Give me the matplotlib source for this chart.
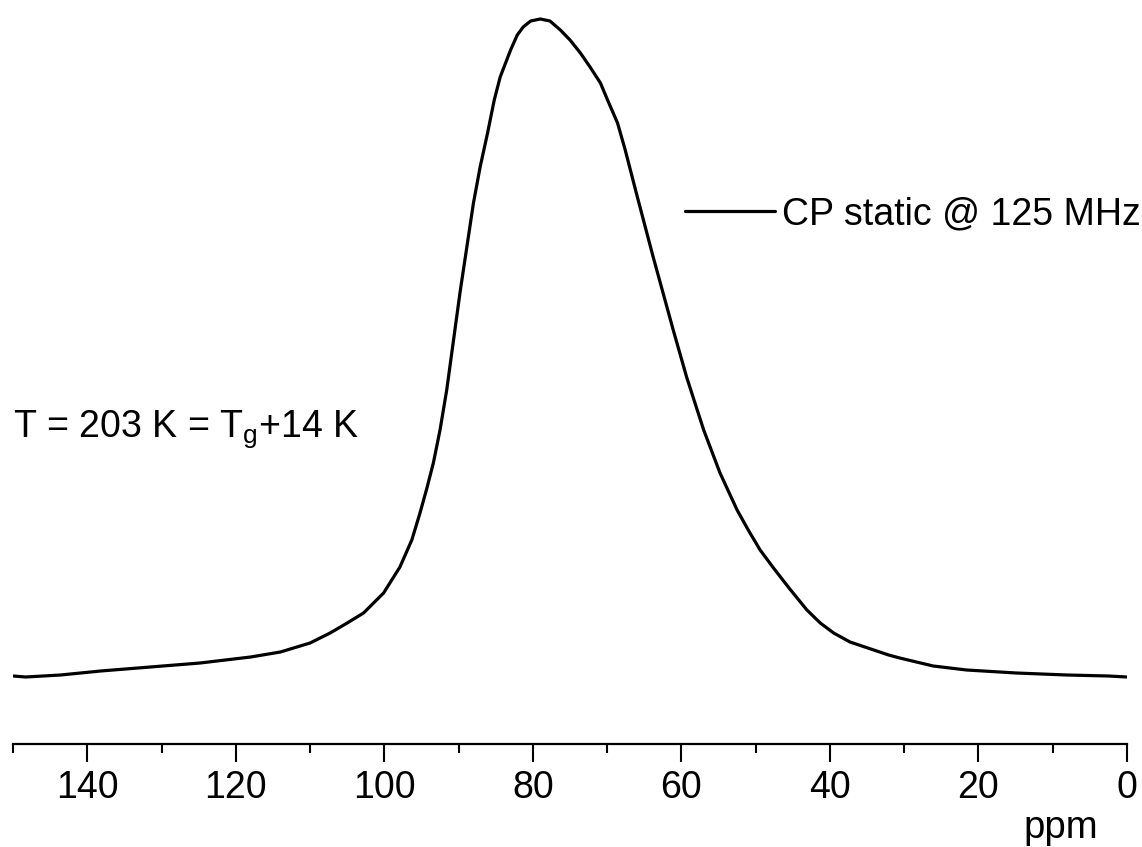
import matplotlib
matplotlib.use("Agg")
import matplotlib.pyplot as plt
from matplotlib.ticker import MultipleLocator

# spectrum (ppm, intensity in a.u.)
ppm = [150, 148.3, 143.6, 138.2, 131.5, 124.8, 118.0, 114.0, 110.0, 107.3,
       105.0, 102.8, 100.1, 97.9, 96.3, 95.2, 94.3, 93.4, 92.5, 91.6,
       89.8, 88.0, 87.1, 86.1, 85.2, 84.4, 83.0, 82.1, 81.3, 80.3,
       79.0, 77.7, 76.3, 75.0, 73.6, 72.3, 70.9, 70.0, 68.6, 67.6,
       66.0, 63.8, 61.1, 59.3, 57.0, 54.8, 52.5, 51.0, 49.4, 47.6,
       45.4, 43.1, 41.3, 39.5, 37.3, 34.1, 32.1, 30.6, 26.1, 21.6,
       14.9, 8.1, 2.5, 0]
intensity = [1, 0, 2, 6, 10, 14, 20, 25, 34, 44,
             54, 64, 84, 110, 137, 164, 188, 214, 247, 287,
             385, 474, 510, 544, 577, 600, 627, 642, 650, 656,
             658, 656, 647, 637, 624, 610, 594, 578, 554, 528,
             482, 420, 347, 300, 247, 204, 167, 147, 127, 109,
             88, 67, 54, 44, 35, 27, 22, 19, 11, 7,
             4, 2, 1, 0]

xticks_major = [140, 120, 100, 80, 60, 40, 20, 0]
series_label = "CP static @ 125 MHz"
note = r"T = 203 K = T$_\mathrm{g}$+14 K"

plt.rcParams['font.family'] = ['Liberation Sans', 'DejaVu Sans']
plt.rcParams['mathtext.fontset'] = 'custom'
plt.rcParams['mathtext.rm'] = 'Liberation Sans'
plt.rcParams['mathtext.it'] = 'Liberation Sans:italic'

W, H = 1142, 847
fig = plt.figure(figsize=(W / 100, H / 100), dpi=100)
ax = fig.add_axes([13 / W, (H - 744) / H, 1114 / W, 744 / H])

ax.plot(ppm, intensity, color='black', lw=2.3, label=series_label,
        solid_joinstyle='round', solid_capstyle='round')

ax.set_xlim(150, 0)
ax.set_ylim(-67, 677)

for side in ['top', 'left', 'right']:
    ax.spines[side].set_visible(False)
ax.spines['bottom'].set_linewidth(1.6)
ax.set_yticks([])

ax.set_xticks(xticks_major)
ax.xaxis.set_minor_locator(MultipleLocator(10))
ax.tick_params(axis='x', which='major', length=13, width=1.5,
               labelsize=27, pad=6)
ax.tick_params(axis='x', which='minor', length=6.5, width=1.5)

fig.text(1098 / W, 1 - 838 / H, "ppm", fontsize=27.5, ha='right', va='baseline')
fig.text(13 / W, 1 - 437 / H, note, fontsize=27, ha='left', va='baseline')

ax.legend(loc='center left', bbox_to_anchor=(685 / W, 1 - 214 / H),
          bbox_transform=fig.transFigure, frameon=False, fontsize=27,
          handlelength=2.4, handletextpad=0.2, borderpad=0,
          borderaxespad=0)

fig.savefig("out.png", dpi=100)
